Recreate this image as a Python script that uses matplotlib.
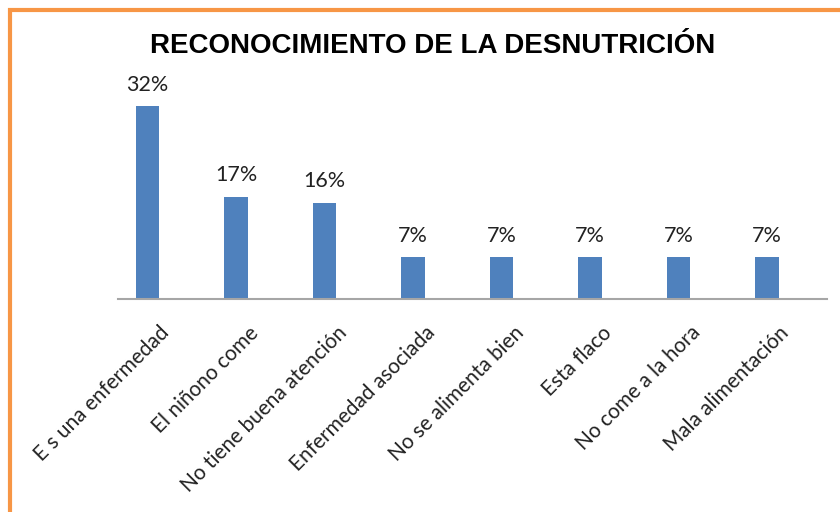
import matplotlib.pyplot as plt
from matplotlib.patches import Rectangle
from matplotlib.transforms import ScaledTranslation

categorias = ['E s una enfermedad', 'El niñono come', 'No tiene buena atención',
              'Enfermedad asociada', 'No se alimenta bien', 'Esta flaco',
              'No come a la hora', 'Mala alimentación']
porcentajes = [32, 17, 16, 7, 7, 7, 7, 7]

plt.rcParams['font.family'] = ['Lato', 'DejaVu Sans']

fig = plt.figure(figsize=(8.4, 5.12), dpi=100)
ax = fig.add_axes([0.1405, 0.416, 0.844, 0.412])

x = range(len(categorias))
bars = ax.bar(x, porcentajes, width=0.267, color='#4F81BD')
for b, v in zip(bars, porcentajes):
    ax.text(b.get_x() + b.get_width() / 2, v + 1.85, f'{v}%',
            ha='center', va='bottom', fontsize=15.5, color='#222222')

ax.set_xlim(-0.333, len(categorias) - 1 + 0.678)
ax.set_ylim(0, 35)
ax.set_xticks(list(x))
ax.set_xticklabels(categorias, rotation=45, ha='right', rotation_mode='anchor',
                   fontsize=15, color='#222222')
ax.tick_params(axis='x', length=0, pad=17)
# desplazar las etiquetas un poco a la derecha como en Excel
off = ScaledTranslation(0.12, 0, fig.dpi_scale_trans)
for lab in ax.get_xticklabels():
    lab.set_transform(lab.get_transform() + off)
ax.set_yticks([])
for s in ['top', 'left', 'right']:
    ax.spines[s].set_visible(False)
ax.spines['bottom'].set_color('#A6A6A6')
ax.spines['bottom'].set_linewidth(1.5)

fig.text(0.515, 0.8965, 'RECONOCIMIENTO DE LA DESNUTRICIÓN', ha='center', va='baseline',
         fontsize=20, fontweight='bold', family=['Liberation Sans', 'DejaVu Sans'])

# marco naranja del gráfico (recortado a la derecha y abajo)
fig.patches.append(Rectangle((0.012, -0.1), 1.2, 1.08, transform=fig.transFigure,
                             fill=False, edgecolor='#F79646', linewidth=3))

fig.savefig('out.png', dpi=100)
